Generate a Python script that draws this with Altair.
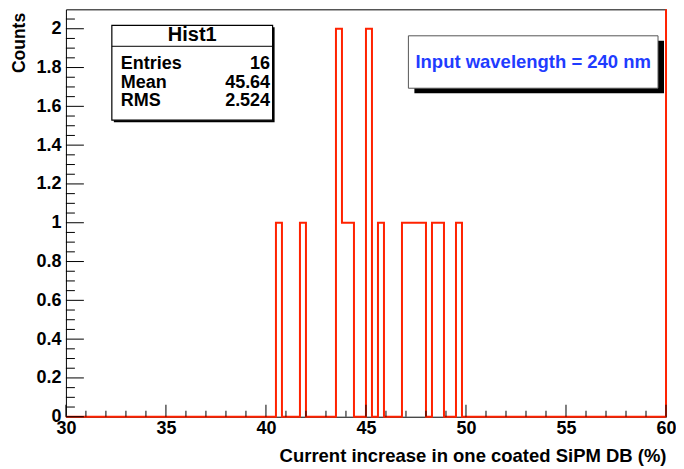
import altair as alt
import pandas as pd

# ---------------- data ----------------
x_min, x_max = 30.0, 60.0
bin_width = 0.3
filled_bin_low = [40.5, 41.7, 43.5, 43.8, 44.1, 45.0, 45.6, 46.8, 47.1, 47.4, 47.7, 48.3, 48.6, 49.5]
filled_counts = [1, 1, 2, 1, 1, 2, 1, 1, 1, 1, 1, 1, 1, 1]

x_major = [30, 35, 40, 45, 50, 55, 60]
x_minor = [31, 32, 33, 34, 36, 37, 38, 39, 41, 42, 43, 44, 46, 47, 48, 49, 51, 52, 53, 54, 56, 57, 58, 59]
y_major = [0, 0.2, 0.4, 0.6, 0.8, 1, 1.2, 1.4, 1.6, 1.8, 2]
y_minor = [0.05, 0.1, 0.15, 0.25, 0.3, 0.35, 0.45, 0.5, 0.55, 0.65, 0.7, 0.75,
           0.85, 0.9, 0.95, 1.05, 1.1, 1.15, 1.25, 1.3, 1.35, 1.45, 1.5, 1.55,
           1.65, 1.7, 1.75, 1.85, 1.9, 1.95, 2.05]

stats_title = "Hist1"
stats_labels = ["Entries", "Mean", "RMS"]
stats_values = ["16", "45.64", "2.524"]
legend_text = "Input wavelength = 240 nm"
x_title = "Current increase in one coated SiPM DB (%)"
y_title = "Counts"

# ---------------- build histogram table ----------------
n_bins = int(round((x_max - x_min) / bin_width))
counts = [0] * n_bins
for lo, c in zip(filled_bin_low, filled_counts):
    counts[int(round((lo - x_min) / bin_width))] = c
edges = [round(x_min + i * bin_width, 4) for i in range(n_bins + 1)]
hist = pd.DataFrame({"x": edges, "y": counts + [0]})

FONT = "Liberation Sans"
W, H = 601, 408
RED = "#ff2200"

xscale = alt.Scale(domain=[x_min, x_max], nice=False, zero=False)
yscale = alt.Scale(domain=[0, 2.1], nice=False)

x_axis = alt.Axis(
    values=x_major, format="d", ticks=False, domain=False, grid=False,
    labelFlush=False, labelOverlap=False,
    labelFont=FONT, labelFontWeight="bold", labelFontSize=18, labelColor="black",
    labelPadding=3, title=x_title, titleFont=FONT, titleFontWeight="bold",
    titleFontSize=18.5, titleColor="black", titleAnchor="end", titleAlign="right",
    titleX=W, titleY=45, titleBaseline="alphabetic")
y_axis = alt.Axis(
    values=y_major, format="~g", ticks=False, domain=False, grid=False,
    labelFlush=False, labelOverlap=False,
    labelFont=FONT, labelFontWeight="bold", labelFontSize=18, labelColor="black",
    labelPadding=5, title=y_title, titleFont=FONT, titleFontWeight="bold",
    titleFontSize=17.5, titleColor="black", titleAngle=270, titleAlign="right",
    titleBaseline="middle", titleX=-46, titleY=3)

hist_line = alt.Chart(hist).mark_line(
    interpolate="step-after", color=RED, strokeWidth=2
).encode(
    x=alt.X("x:Q", scale=xscale, axis=x_axis),
    y=alt.Y("y:Q", scale=yscale, axis=y_axis),
)

right_edge = alt.Chart(pd.DataFrame({"x": [x_max]})).mark_rule(color=RED, strokeWidth=2).encode(
    x=alt.X("x:Q", scale=xscale, axis=x_axis), y=alt.value(0), y2=alt.value(H))

x_major_t = alt.Chart(pd.DataFrame({"x": x_major})).mark_rule(color="black", strokeWidth=1).encode(
    x=alt.X("x:Q", scale=xscale, axis=x_axis), y=alt.value(H), y2=alt.value(H - 12))
x_minor_t = alt.Chart(pd.DataFrame({"x": x_minor})).mark_rule(color="black", strokeWidth=1).encode(
    x=alt.X("x:Q", scale=xscale, axis=x_axis), y=alt.value(H), y2=alt.value(H - 6))
y_major_t = alt.Chart(pd.DataFrame({"y": y_major})).mark_rule(color="black", strokeWidth=1).encode(
    y=alt.Y("y:Q", scale=yscale, axis=y_axis), x=alt.value(0), x2=alt.value(18))
y_minor_t = alt.Chart(pd.DataFrame({"y": y_minor})).mark_rule(color="black", strokeWidth=1).encode(
    y=alt.Y("y:Q", scale=yscale, axis=y_axis), x=alt.value(0), x2=alt.value(9))

one = pd.DataFrame({"a": [0]})
TS = 18

# stats box
sb_x0, sb_x1, sb_y0, sb_y1 = 46, 207, 16, 111
stats_shadow = alt.Chart(one).mark_rect(color="black").encode(
    x=alt.value(sb_x0 + 2), x2=alt.value(sb_x1 + 2), y=alt.value(sb_y0 + 2), y2=alt.value(sb_y1 + 2))
stats_box = alt.Chart(one).mark_rect(fill="white", stroke="black", strokeWidth=1.2).encode(
    x=alt.value(sb_x0), x2=alt.value(sb_x1), y=alt.value(sb_y0), y2=alt.value(sb_y1))
stats_sep = alt.Chart(one).mark_rule(color="black", strokeWidth=1).encode(
    x=alt.value(sb_x0), x2=alt.value(sb_x1), y=alt.value(37))
stats_head = alt.Chart(one).mark_text(font=FONT, fontWeight="bold", fontSize=20, color="black",
                                      align="center", baseline="middle").encode(
    x=alt.value((sb_x0 + sb_x1) / 2), y=alt.value(25.5), text=alt.value(stats_title))
row_y = [55, 73.5, 92]
stats_rows = []
for lab, val, yy in zip(stats_labels, stats_values, row_y):
    stats_rows.append(alt.Chart(one).mark_text(font=FONT, fontWeight="bold", fontSize=TS, color="black",
                                               align="left", baseline="middle").encode(
        x=alt.value(55), y=alt.value(yy), text=alt.value(lab)))
    stats_rows.append(alt.Chart(one).mark_text(font=FONT, fontWeight="bold", fontSize=TS, color="black",
                                               align="right", baseline="middle").encode(
        x=alt.value(204.5), y=alt.value(yy), text=alt.value(val)))

# legend box
lb_x0, lb_x1, lb_y0, lb_y1 = 343, 593, 26.5, 79
leg_shadow = alt.Chart(one).mark_rect(color="black").encode(
    x=alt.value(lb_x0 + 6), x2=alt.value(lb_x1 + 6), y=alt.value(lb_y0 + 5), y2=alt.value(lb_y1 + 5))
leg_box = alt.Chart(one).mark_rect(fill="white", stroke="#555555", strokeWidth=1).encode(
    x=alt.value(lb_x0), x2=alt.value(lb_x1), y=alt.value(lb_y0), y2=alt.value(lb_y1))
leg_text = alt.Chart(one).mark_text(font=FONT, fontWeight="bold", fontSize=18.5, color="#1f3cff",
                                    align="center", baseline="middle").encode(
    x=alt.value((lb_x0 + lb_x1) / 2), y=alt.value(53), text=alt.value(legend_text))

chart = alt.layer(
    hist_line, right_edge, x_major_t, x_minor_t, y_major_t, y_minor_t,
    stats_shadow, stats_box, stats_sep, stats_head, *stats_rows,
    leg_shadow, leg_box, leg_text,
).properties(
    width=W, height=H,
    autosize=alt.AutoSizeParams(type="none"),
    padding={"left": 58, "top": 1, "right": 10, "bottom": 50},
    background="white",
).configure_view(stroke="black", strokeWidth=1)

chart.save("out.html", embed_options={"renderer": "svg", "actions": False})
